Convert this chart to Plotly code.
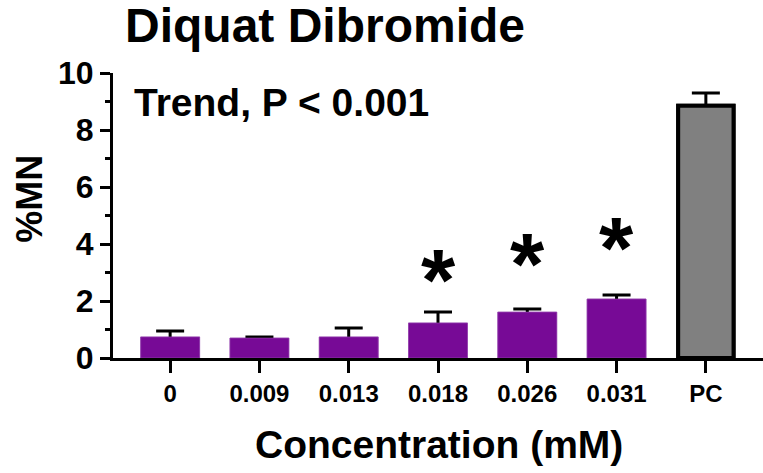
import plotly.graph_objects as go

# Micronucleus frequency by diquat dibromide concentration
categories = ["0", "0.009", "0.013", "0.018", "0.026", "0.031", "PC"]
mean_mn = [0.74, 0.70, 0.74, 1.23, 1.61, 2.07, 8.85]
sem_mn = [0.21, 0.04, 0.31, 0.38, 0.11, 0.14, 0.45]
significant = ["0.018", "0.026", "0.031"]
star_height = [3.16, 3.72, 4.31]

PURPLE = "#770A96"
GREY = "#808080"
FONT = "Liberation Sans, Arial, sans-serif"

fill_colors = [PURPLE] * (len(categories) - 1) + [GREY]
edge_colors = ["#9B4DB3"] * (len(categories) - 1) + ["black"]
edge_widths = [0.6] * (len(categories) - 1) + [4]
bar_widths = [0.66] * (len(categories) - 1) + [0.62]

fig = go.Figure()

# Bars carrying the error bars; a second copy drawn over them hides the
# lower half so only the upward SEM whisker is visible.
fig.add_trace(go.Bar(
    x=categories, y=mean_mn, width=bar_widths,
    marker=dict(color=fill_colors, line=dict(color=edge_colors, width=edge_widths)),
    error_y=dict(type="data", array=sem_mn, color="black", thickness=3, width=14),
    showlegend=False, hoverinfo="skip",
))
fig.add_trace(go.Bar(
    x=categories, y=mean_mn, width=bar_widths,
    marker=dict(color=fill_colors, line=dict(color=edge_colors, width=edge_widths)),
    showlegend=False,
))

# significance markers
for cat, h in zip(significant, star_height):
    fig.add_annotation(x=categories.index(cat), y=h, xref="x", yref="y", text="*",
                       showarrow=False,
                       font=dict(family=FONT, size=88, color="black", weight="bold"),
                       yanchor="middle", yshift=-12)

fig.add_annotation(x=-0.43, y=8.98, xref="x", yref="y", xanchor="left", yanchor="middle",
                   text="Trend, P < 0.001", showarrow=False,
                   font=dict(family=FONT, size=39, color="black", weight="bold"))

fig.add_annotation(x=0.0154, y=1.165, xref="paper", yref="paper", xanchor="left",
                   yanchor="middle", text="Diquat Dibromide", showarrow=False,
                   font=dict(family=FONT, size=48, color="black", weight="bold"))

fig.add_annotation(x=0.5015, y=-0.305, xref="paper", yref="paper", xanchor="center",
                   yanchor="middle", text="Concentration (mM)", showarrow=False,
                   font=dict(family=FONT, size=39, color="black", weight="bold"))

fig.add_annotation(x=-0.128, y=0.558, xref="paper", yref="paper", xanchor="center",
                   yanchor="middle", text="%MN", textangle=-90, showarrow=False,
                   font=dict(family=FONT, size=36, color="black", weight="bold"))

fig.update_layout(
    width=763, height=473,
    margin=dict(l=113, r=0, t=73, b=115),
    paper_bgcolor="white", plot_bgcolor="white",
    barmode="overlay",
    font=dict(family=FONT, color="black"),
)

fig.update_xaxes(
    type="category", categoryorder="array", categoryarray=categories,
    range=[-0.64, 6.64],
    showline=True, linecolor="black", linewidth=3,
    ticks="outside", ticklen=12, tickwidth=3, tickcolor="black",
    tickfont=dict(family=FONT, size=24, color="black", weight="bold"),
    showgrid=False, zeroline=False,
)
fig.update_yaxes(
    range=[0, 10], tickvals=[0, 2, 4, 6, 8, 10],
    showline=True, linecolor="black", linewidth=3,
    ticks="outside", ticklen=10, tickwidth=3, tickcolor="black",
    minor=dict(tickvals=[1, 3, 5, 7, 9], ticks="outside", ticklen=5,
               tickwidth=3, tickcolor="black", showgrid=False),
    tickfont=dict(family=FONT, size=32, color="black", weight="bold"),
    showgrid=False, zeroline=False,
)

fig.write_html("out.html")
